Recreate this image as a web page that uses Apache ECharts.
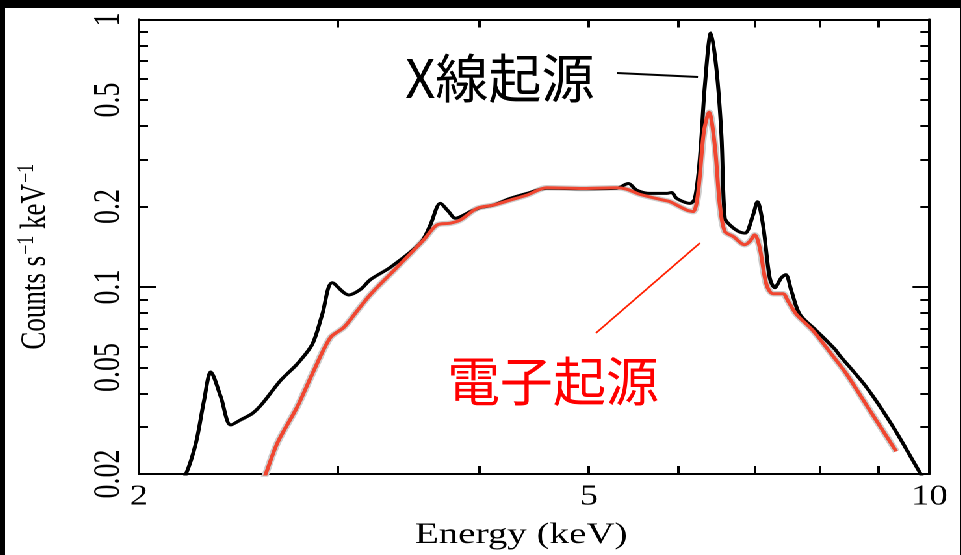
<!DOCTYPE html>
<html>
<head>
<meta charset="utf-8">
<script src="https://cdn.jsdelivr.net/npm/echarts@6/dist/echarts.min.js"></script>
<style>
  html, body { margin: 0; padding: 0; background: #000; overflow: hidden; width: 961px; height: 555px; }
  #chart { position: absolute; left: 5px; top: 8px; height: 547px; background: #fff; transform-origin: 0 0; }
</style>
</head>
<body>
<div id="chart"></div>
<script>
// Horizontal stretch of the whole figure (text and frame are drawn wide)
const STRETCH = 1.3;
const PAGE_W = 956;

// X-ray origin spectrum
const xrayEnergy = [2.17, 2.20, 2.246, 2.284, 2.315, 2.363, 2.411, 2.461, 2.520, 2.572, 2.669, 2.761, 2.847, 2.905, 2.965, 3.066, 3.140, 3.205, 3.338, 3.548, 3.620, 3.694, 3.757, 3.809, 3.927, 4.007, 4.117, 4.259, 4.406, 4.589, 4.943, 5.291, 5.417, 5.510, 5.661, 5.856, 5.916, 5.977, 6.140, 6.203, 6.266, 6.330, 6.408, 6.482, 6.548, 6.593, 6.660, 6.780, 6.870, 6.983, 7.045, 7.126, 7.224, 7.298, 7.397, 7.463, 7.550, 7.679, 7.943, 8.244, 8.329, 8.793, 9.282, 9.830, 9.90];
const xrayCounts = [0.0185, 0.0199, 0.0261, 0.0378, 0.0481, 0.0388, 0.0305, 0.0319, 0.0337, 0.0367, 0.0448, 0.0516, 0.0612, 0.0791, 0.1037, 0.0934, 0.098, 0.1067, 0.1186, 0.146, 0.1707, 0.2054, 0.1914, 0.1807, 0.1914, 0.198, 0.2025, 0.2144, 0.2238, 0.234, 0.233, 0.234, 0.2437, 0.2301, 0.2238, 0.2238, 0.2257, 0.2144, 0.2054, 0.2144, 0.3017, 0.564, 0.89, 0.651, 0.368, 0.1807, 0.1707, 0.1613, 0.159, 0.1859, 0.2084, 0.1707, 0.1083, 0.0994, 0.1083, 0.1113, 0.0966, 0.0791, 0.0687, 0.0587, 0.0555, 0.0423, 0.0301, 0.0199, 0.0190];

// Electron origin spectrum
const electronEnergy = [2.575, 2.589, 2.651, 2.761, 2.856, 2.954, 3.035, 3.119, 3.205, 3.383, 3.571, 3.670, 3.770, 3.848, 3.981, 4.117, 4.259, 4.406, 4.589, 4.943, 5.291, 5.399, 5.547, 5.816, 5.896, 6.099, 6.181, 6.245, 6.317, 6.385, 6.460, 6.526, 6.593, 6.705, 6.866, 6.936, 7.007, 7.079, 7.176, 7.273, 7.420, 7.497, 7.627, 7.889, 8.189, 8.443, 8.852, 9.346];
const electronCounts = [0.0190, 0.0200, 0.0261, 0.0357, 0.0488, 0.0648, 0.0706, 0.0815, 0.0939, 0.1186, 0.1501, 0.1707, 0.1732, 0.1781, 0.1968, 0.2025, 0.2113, 0.2205, 0.2349, 0.2335, 0.2349, 0.2321, 0.2219, 0.2113, 0.2084, 0.194, 0.1914, 0.2271, 0.379, 0.45, 0.338, 0.2025, 0.1613, 0.1546, 0.1439, 0.1481, 0.1567, 0.1399, 0.1022, 0.0944, 0.0944, 0.0887, 0.0791, 0.0687, 0.0562, 0.0474, 0.0347, 0.0243];

// Axis ticks and labels
const xLabelValues = [2, 5, 10];
const xTickValues = [3, 4, 5, 6, 7, 8, 9];
const yLabelValues = [0.02, 0.05, 0.1, 0.2, 0.5, 1];
const yMinorTicks = [0.03, 0.04, 0.05, 0.06, 0.07, 0.08, 0.09, 0.2, 0.3, 0.4, 0.5, 0.6, 0.7, 0.8, 0.9];
const yMajorTicks = [0.1];

const zip = (a, b) => a.map((v, i) => [v, b[i]]);

const el = document.getElementById('chart');
el.style.width = (PAGE_W / STRETCH) + 'px';
el.style.transform = 'scaleX(' + STRETCH + ')';

const chart = echarts.init(el, null, { renderer: 'canvas', devicePixelRatio: 2 });

// screen -> local (pre-stretch) coordinates
const lx = X => (X - 5) / STRETCH;
const ly = Y => Y - 8;

const serif = 'Liberation Serif';
const frameLine = { show: true, lineStyle: { color: '#000', width: 2 } };

function yAxisDef(pos, ticks, len, withLabels) {
  return {
    type: 'log', logBase: 10, min: 0.02, max: 1, position: pos, gridIndex: 0,
    axisLine: frameLine,
    splitLine: { show: false },
    axisTick: { show: true, inside: true, length: len, customValues: ticks, lineStyle: { color: '#000', width: 2 } },
    axisLabel: withLabels ? {
      show: true, customValues: yLabelValues, rotate: 90, margin: 9,
      fontFamily: serif, fontSize: 28, color: '#000',
      formatter: v => String(+(+v).toPrecision(3))
    } : { show: false },
    name: withLabels ? 'Counts s{sup|−1} keV{sup|−1}' : '',
    nameLocation: 'middle', nameRotate: 90, nameGap: 64,
    nameTextStyle: {
      fontFamily: serif, fontSize: 27, color: '#000',
      padding: [0, 20, 0, 0],
      rich: { sup: { fontFamily: serif, fontSize: 18, color: '#000', verticalAlign: 'top', padding: [0, 0, 13, 1] } }
    }
  };
}

function xAxisDef(pos, withLabels) {
  return {
    type: 'log', logBase: 10, min: 2, max: 10, position: pos, gridIndex: 0,
    axisLine: frameLine,
    splitLine: { show: false },
    axisTick: { show: true, inside: true, length: 8, customValues: xTickValues, lineStyle: { color: '#000', width: 2 } },
    axisLabel: withLabels ? {
      show: true, customValues: xLabelValues, margin: 9,
      fontFamily: serif, fontSize: 28, color: '#000'
    } : { show: false },
    name: withLabels ? 'Energy (keV)' : '',
    nameLocation: 'middle', nameGap: 46,
    nameTextStyle: { fontFamily: serif, fontSize: 30, color: '#000', padding: [0, 20, 0, 0] }
  };
}

const option = {
  animation: false,
  backgroundColor: '#fff',
  grid: {
    left: lx(138), right: (961 - 930) / STRETCH,
    top: ly(19.5), bottom: 555 - 477.7,
    containLabel: false
  },
  xAxis: [xAxisDef('bottom', true), xAxisDef('top', false)],
  yAxis: [
    yAxisDef('left', yMinorTicks, 7, true),
    yAxisDef('left', yMajorTicks, 13, false),
    yAxisDef('right', yMinorTicks, 7, false),
    yAxisDef('right', yMajorTicks, 13, false)
  ],
  series: [
    {
      name: '電子起源 halo', type: 'line', data: zip(electronEnergy, electronCounts),
      showSymbol: false, smooth: 0.3, z: 2, silent: true,
      lineStyle: { color: '#cdcdcd', width: 5.5 }
    },
    {
      name: 'X線起源', type: 'line', data: zip(xrayEnergy, xrayCounts),
      showSymbol: false, smooth: 0.3, z: 3,
      lineStyle: { color: '#000', width: 3 }
    },
    {
      name: '電子起源', type: 'line', data: zip(electronEnergy, electronCounts),
      showSymbol: false, smooth: 0.3, z: 4,
      lineStyle: { color: '#f04630', width: 3 }
    }
  ],
  graphic: [
    {
      type: 'text', x: lx(405), y: ly(78), scaleX: 1 / STRETCH, z: 10,
      style: { text: 'X線起源', fill: '#000', font: '53px "Noto Sans CJK JP"', textAlign: 'left', textVerticalAlign: 'middle' }
    },
    {
      type: 'line', z: 10,
      shape: { x1: lx(617), y1: ly(73), x2: lx(698), y2: ly(77) },
      style: { stroke: '#000', lineWidth: 2 }
    },
    {
      type: 'text', x: lx(447), y: ly(381), scaleX: 1 / STRETCH, z: 10,
      style: { text: '電子起源', fill: '#ff0000', font: '53px "Noto Sans CJK JP"', textAlign: 'left', textVerticalAlign: 'middle' }
    },
    {
      type: 'line', z: 10,
      shape: { x1: lx(596), y1: ly(333), x2: lx(700), y2: ly(243) },
      style: { stroke: '#ff2000', lineWidth: 1.5 }
    }
  ]
};

chart.setOption(option);
</script>
</body>
</html>
